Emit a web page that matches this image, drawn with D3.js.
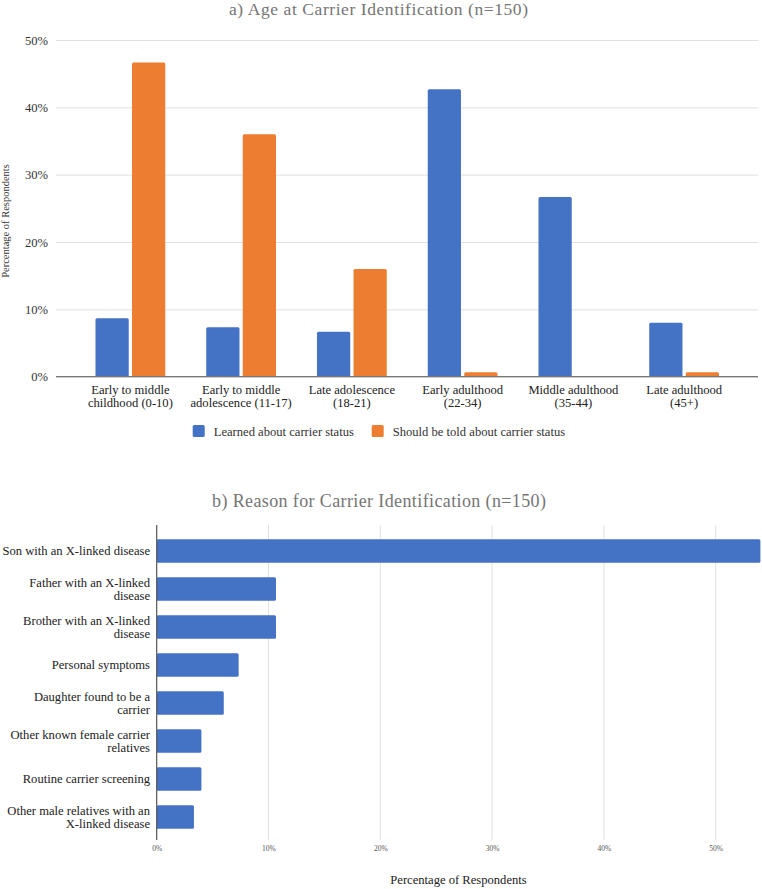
<!DOCTYPE html>
<html><head><meta charset="utf-8">
<script src="https://cdn.jsdelivr.net/npm/d3@7"></script>
<style>
html,body{margin:0;padding:0;background:#fff;}
svg{display:block;}
</style></head>
<body>
<svg id="chart" width="762" height="889"></svg>
<script>
// ---- Data: chart a ----
const ageCategories = [
  ["Early to middle", "childhood (0-10)"],
  ["Early to middle", "adolescence (11-17)"],
  ["Late adolescence", "(18-21)"],
  ["Early adulthood", "(22-34)"],
  ["Middle adulthood", "(35-44)"],
  ["Late adulthood", "(45+)"]
];
const seriesNames = ["Learned about carrier status", "Should be told about carrier status"];
const learnedValues = [0.0867, 0.0733, 0.0667, 0.4267, 0.2667, 0.08];
const shouldValues  = [0.4667, 0.36, 0.16, 0.0067, 0, 0.0067];
const ageTicks = [0, 0.1, 0.2, 0.3, 0.4, 0.5];

// ---- Data: chart b ----
const reasonCategories = [
  ["Son with an X-linked disease"],
  ["Father with an X-linked", "disease"],
  ["Brother with an X-linked", "disease"],
  ["Personal symptoms"],
  ["Daughter found to be a", "carrier"],
  ["Other known female carrier", "relatives"],
  ["Routine carrier screening"],
  ["Other male relatives with an", "X-linked disease"]
];
const reasonValues = [0.54, 0.1067, 0.1067, 0.0733, 0.06, 0.04, 0.04, 0.0333];
const reasonTicks = [0, 0.1, 0.2, 0.3, 0.4, 0.5];

const colors = ["#4472C4", "#ED7D31"];
const FONT = "'Liberation Serif', 'Times New Roman', Times, serif";
const FS = 12.6;
const svg = d3.select("#chart");
const fmt = d3.format(".0%");

// ================= Chart a =================
(function(){
  const g = svg.append("g");
  const idx = ageCategories.map((d,i)=>i);
  const x0 = d3.scaleBand().domain(idx).range([75, 739.5]).paddingInner(0.37).paddingOuter(0.185);
  const x1 = d3.scaleBand().domain([0,1]).range([0, x0.bandwidth()]).paddingInner(0.09);
  const y = d3.scaleLinear().domain([0, 0.5]).range([376.7, 40]);

  g.append("text").attr("x", 378.5).attr("y", 14.5).attr("text-anchor","middle")
    .attr("font-size", 17.5).attr("fill", "#757575").style("font-family", FONT)
    .attr("textLength", 299).attr("lengthAdjust", "spacing")
    .text("a) Age at Carrier Identification (n=150)");

  // gridlines
  const yAxis = d3.axisLeft(y).tickValues(ageTicks).tickFormat(fmt).tickSize(-702).tickPadding(8);
  const ga = g.append("g").attr("transform", "translate(56,0)").call(yAxis);
  ga.select(".domain").remove();
  ga.selectAll(".tick line").attr("stroke", "#e0e0e0").attr("stroke-width", 1);
  ga.selectAll(".tick text").attr("font-size", FS).attr("fill", "#333").style("font-family", FONT);

  // bars
  const data = idx.map(i => [learnedValues[i], shouldValues[i]]);
  const grp = g.selectAll("g.grp").data(data).join("g").attr("class","grp")
    .attr("transform", (d,i) => `translate(${x0(i)},0)`);
  grp.selectAll("rect").data(d => d.map((v,j)=>({v, j}))).join("rect")
    .filter(d => d.v > 0)
    .attr("x", d => x1(d.j)).attr("width", x1.bandwidth())
    .attr("y", d => y(d.v)).attr("height", d => y(0) - y(d.v))
    .attr("rx", 1.5)
    .attr("fill", d => colors[d.j]);

  // baseline
  g.append("line").attr("x1", 56).attr("x2", 758).attr("y1", y(0)).attr("y2", y(0))
    .attr("stroke", "#777").attr("stroke-width", 1.2);

  // x labels
  const xl = g.selectAll("text.xl").data(ageCategories).join("text").attr("class","xl")
    .attr("text-anchor","middle").attr("font-size", FS).attr("fill", "#222").style("font-family", FONT)
    .attr("transform", (d,i) => `translate(${x0(i) + x0.bandwidth()/2},393.5)`);
  xl.selectAll("tspan").data(d=>d).join("tspan").attr("x", 0).attr("dy", (d,i)=> i ? 13.5 : 0).text(d=>d);

  // y label
  g.append("text").attr("transform", "translate(8.5,221) rotate(-90)")
    .attr("text-anchor","middle").attr("font-size", 10.5).attr("fill","#333").style("font-family", FONT)
    .text("Percentage of Respondents");

  // legend
  const legX = [192.7, 371.7];
  const leg = g.selectAll("g.leg").data(seriesNames).join("g").attr("class","leg")
    .attr("transform", (d,i)=>`translate(${legX[i]},425)`);
  leg.append("rect").attr("width", 12).attr("height", 12).attr("rx", 1.5).attr("fill", (d,i)=>colors[i]);
  leg.append("text").attr("x", 21).attr("y", 10.5).attr("font-size", FS).attr("fill", "#333")
    .style("font-family", FONT).text(d=>d);
})();

// ================= Chart b =================
(function(){
  const g = svg.append("g");
  const idx = reasonCategories.map((d,i)=>i);
  const x = d3.scaleLinear().domain([0, 0.54]).range([156.7, 760.4]);
  const y = d3.scaleBand().domain(idx).range([532, 836]).paddingInner(0.38).paddingOuter(0.19);

  g.append("text").attr("x", 379).attr("y", 507).attr("text-anchor","middle")
    .attr("font-size", 18).attr("fill", "#757575").style("font-family", FONT)
    .attr("textLength", 334).attr("lengthAdjust", "spacing")
    .text("b) Reason for Carrier Identification (n=150)");

  // vertical gridlines
  g.selectAll("line.grid").data(reasonTicks.filter(t=>t>0)).join("line").attr("class","grid")
    .attr("x1", d=>x(d)).attr("x2", d=>x(d)).attr("y1", 525).attr("y2", 840)
    .attr("stroke", "#e0e0e0").attr("stroke-width", 1);

  const xAxis = d3.axisBottom(x).tickValues(reasonTicks).tickFormat(fmt).tickSize(0).tickPadding(0);
  const ga = g.append("g").attr("transform", "translate(0,846)").call(xAxis);
  ga.select(".domain").remove();
  ga.selectAll(".tick text").attr("font-size", 7.5).attr("fill", "#555").style("font-family", FONT);

  g.selectAll("rect.bar").data(reasonValues).join("rect").attr("class","bar")
    .attr("x", x(0)).attr("y", (d,i)=>y(i))
    .attr("width", d => x(d) - x(0)).attr("height", y.bandwidth())
    .attr("rx", 1.5).attr("fill", colors[0]);

  // axis line at 0
  g.append("line").attr("x1", x(0)).attr("x2", x(0)).attr("y1", 525).attr("y2", 840)
    .attr("stroke", "#555").attr("stroke-width", 1.2);

  // category labels
  const cl = g.selectAll("text.cl").data(reasonCategories).join("text").attr("class","cl")
    .attr("text-anchor","end").attr("font-size", FS).attr("fill", "#222").style("font-family", FONT)
    .attr("transform", (d,i)=>`translate(150,${y(i)+y.bandwidth()/2 + 4.2 - (d.length-1)*6.35})`);
  cl.selectAll("tspan").data(d=>d).join("tspan").attr("x", 0).attr("dy", (d,i)=> i ? 12.7 : 0).text(d=>d);

  g.append("text").attr("x", 458.5).attr("y", 884).attr("text-anchor","middle")
    .attr("font-size", FS).attr("fill", "#222").style("font-family", FONT).text("Percentage of Respondents");
})();
</script>
</body></html>
